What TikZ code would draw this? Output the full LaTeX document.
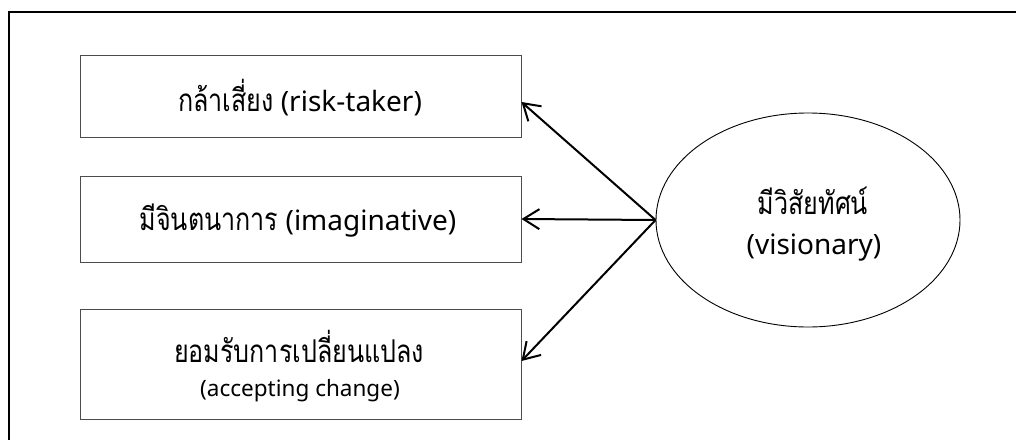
\documentclass[tikz,border=0pt]{standalone}
\usepackage{fontspec}
\setmainfont{Noto Sans}
\newfontfamily\thai[Script=Thai,Scale=1.12,FakeStretch=0.8]{Loma}
\usetikzlibrary{arrows.meta,shapes.geometric}
\tikzset{
  box/.style={draw=black!70, line width=1pt, minimum width=441pt, inner sep=0pt},
  trait/.style={ellipse, draw=black, line width=0.9pt, minimum width=304pt, minimum height=214pt, inner sep=0pt},
  big/.style={font=\fontsize{28}{34}\selectfont},
  small/.style={font=\fontsize{22.5}{28}\selectfont},
  link/.style={line width=2pt, -{Straight Barb[length=16pt, width=20pt, line width=2pt]}},
  words/.style={inner sep=0pt, anchor=center},
}
\begin{document}
\begin{tikzpicture}[x=1pt, y=-1pt]
  \useasboundingbox (0,0) rectangle (1016,439);
  \clip (0,0) rectangle (1016,439);
  % outer frame, running off the page on the right and at the bottom
  \draw[line width=2pt] (9,12) rectangle (1040,470);

  % three trait boxes
  \node[box, minimum height=82pt] (b1) at (300.5,96) {};
  \node[box, minimum height=86pt] (b2) at (300.5,219) {};
  \node[box, minimum height=110pt] (b3) at (300.5,364) {};
  \node[words, big] (t1) at (300,98) {{\thai กล้าเสี่ยง} (risk-taker)};
  \node[words, big] (t2) at (298,221) {{\thai มีจินตนาการ} (imaginative)};
  \node[words, big] (t3a) at (299,346) {\thai ยอมรับการเปลี่ยนแปลง};
  \node[words, small] (t3b) at (300,391) {(accepting change)};

  % central ellipse and its two lines
  \node[trait] (v) at (808,220) {};
  \node[words, big] (va) at (813,201) {\thai มีวิสัยทัศน์};
  \node[words, big] (vb) at (814,248) {(visionary)};

  % arrows from the ellipse to each box
  \draw[link] (v.west) -- ([yshift=-6pt]b1.east);
  \draw[link] (v.west) -- (b2.east);
  \draw[link] (v.west) -- ([yshift=3pt]b3.east);
\end{tikzpicture}
\end{document}
